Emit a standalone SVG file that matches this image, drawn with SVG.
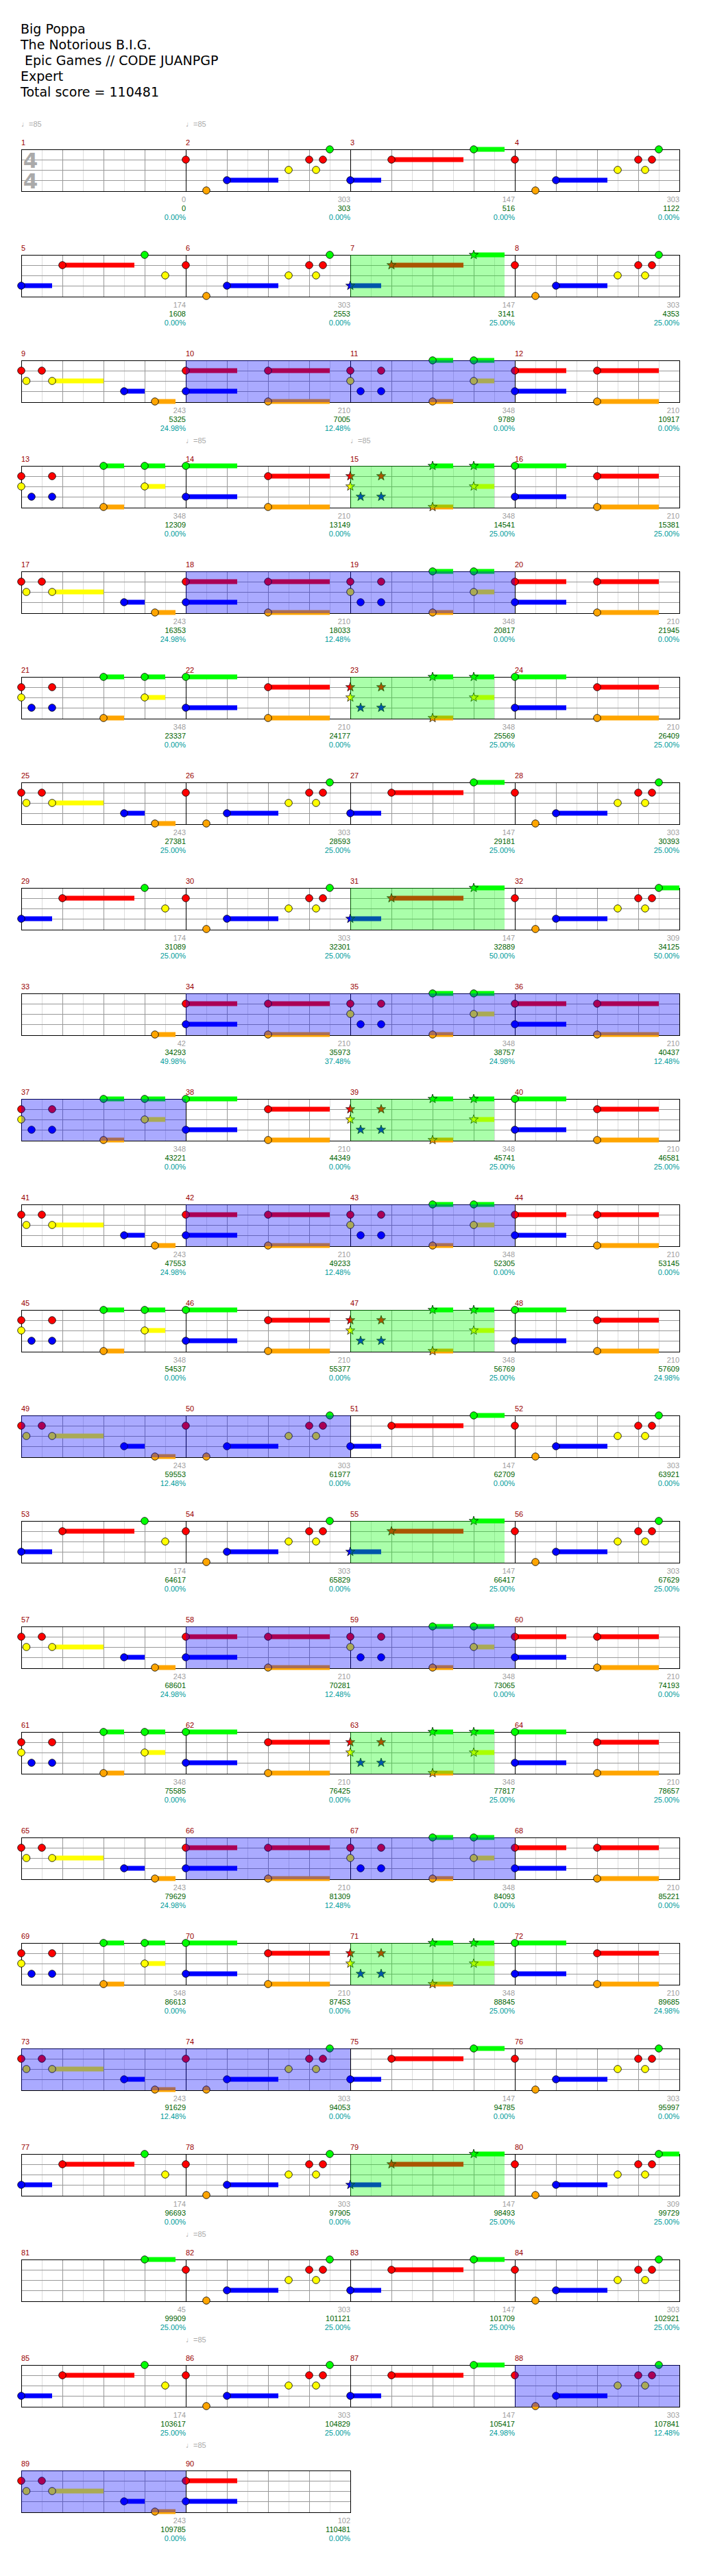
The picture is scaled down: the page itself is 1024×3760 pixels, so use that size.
<svg xmlns="http://www.w3.org/2000/svg" width="1024" height="3760" viewBox="0 0 1024 3760">
<style>
.t{font-family:"DejaVu Sans",sans-serif;font-size:19px;fill:#000}
.n{font-family:"Liberation Sans",Arial,sans-serif;font-size:11px;fill:#990000}
.s{font-family:"Liberation Sans",Arial,sans-serif;font-size:11px;text-anchor:end}
.s1{fill:#a0a0a0}.s2{fill:#006400}.s3{fill:#009c9c}
.tp{font-family:"Liberation Sans","DejaVu Sans",sans-serif;font-size:11px;fill:#aaa}
.ts{font-family:"DejaVu Sans",sans-serif;font-size:31px;font-weight:bold;fill:#aaa;text-anchor:middle}
.g{fill:#00ff00}.r{fill:#ff0000}.y{fill:#ffff00}.b{fill:#0000ff}.o{fill:#ffa500}
.sp{fill:#00ff00;fill-opacity:.333}.bo{fill:#0000ff;fill-opacity:.333}
</style>
<defs>
<circle id="c" r="5.3" stroke="#000" stroke-width="0.8"/>
<polygon id="s" points="0,-7 1.65,-2.27 6.66,-2.16 2.66,0.87 4.11,5.66 0,2.8 -4.11,5.66 -2.66,0.87 -6.66,-2.16 -1.65,-2.27" stroke="#000" stroke-width="0.7"/>
<g id="st4" shape-rendering="crispEdges" fill="none">
<path stroke="#ddd" d="M61 0v61M121 0v61M181 0v61M241 0v61M301 0v61M361 0v61M421 0v61M481 0v61M541 0v61M601 0v61M661 0v61M721 0v61M781 0v61M841 0v61M901 0v61M961 0v61"/>
<path stroke="#999" d="M91 0v61M151 0v61M211 0v61M331 0v61M391 0v61M451 0v61M571 0v61M631 0v61M691 0v61M811 0v61M871 0v61M931 0v61M31 15H991M31 30H991M31 45H991"/>
<path stroke="#000" d="M271 0v61M511 0v61M751 0v61"/>
<rect x="31" y="0" width="960" height="61" stroke="#000"/>
</g>
<g id="st2" shape-rendering="crispEdges" fill="none">
<path stroke="#ddd" d="M61 0v61M121 0v61M181 0v61M241 0v61M301 0v61M361 0v61M421 0v61M481 0v61"/>
<path stroke="#999" d="M91 0v61M151 0v61M211 0v61M331 0v61M391 0v61M451 0v61M31 15H511M31 30H511M31 45H511"/>
<path stroke="#000" d="M271 0v61"/>
<rect x="31" y="0" width="480" height="61" stroke="#000"/>
</g>
<g id="pA">
<rect class="b" x="60" y="41.5" width="75" height="7"/>
<use href="#c" class="r" y="15"/><use href="#c" class="o" x="30" y="60"/><use href="#c" class="b" x="60" y="45"/><use href="#c" class="y" x="150" y="30"/><use href="#c" class="r" x="180" y="15"/><use href="#c" class="y" x="190" y="30"/><use href="#c" class="r" x="200" y="15"/><use href="#c" class="g" x="210"/>
</g>
<g id="pA2"><rect class="g" x="210" y="-3.5" width="30" height="7"/><use href="#pA"/></g>
<g id="pB">
<rect class="b" y="41.5" width="45" height="7"/><rect class="r" x="60" y="11.5" width="105" height="7"/><rect class="g" x="180" y="-3.5" width="45" height="7"/>
<use href="#c" class="b" y="45"/><use href="#c" class="r" x="60" y="15"/><use href="#c" class="g" x="180"/>
</g>
<g id="pBs">
<rect class="b" y="41.5" width="45" height="7"/><rect class="r" x="60" y="11.5" width="105" height="7"/><rect class="g" x="180" y="-3.5" width="45" height="7"/>
<use href="#s" class="b" y="45"/><use href="#s" class="r" x="60" y="15"/><use href="#s" class="g" x="180"/>
</g>
<g id="pC">
<rect class="b" y="41.5" width="45" height="7"/><rect class="r" x="60" y="11.5" width="105" height="7"/>
<use href="#c" class="b" y="45"/><use href="#c" class="r" x="60" y="15"/><use href="#c" class="g" x="180"/><use href="#c" class="y" x="210" y="30"/>
</g>
<g id="pD">
<rect class="y" x="45" y="26.5" width="75" height="7"/><rect class="b" x="150" y="41.5" width="30" height="7"/><rect class="o" x="195" y="56.5" width="30" height="7"/>
<use href="#c" class="r" y="15"/><use href="#c" class="y" x="7.5" y="30"/><use href="#c" class="r" x="30" y="15"/><use href="#c" class="y" x="45" y="30"/><use href="#c" class="b" x="150" y="45"/><use href="#c" class="o" x="195" y="60"/>
</g>
<g id="pE">
<rect class="r" y="11.5" width="75" height="7"/><rect class="b" y="41.5" width="75" height="7"/><rect class="r" x="120" y="11.5" width="90" height="7"/><rect class="o" x="120" y="56.5" width="90" height="7"/>
<use href="#c" class="r" y="15"/><use href="#c" class="b" y="45"/><use href="#c" class="r" x="120" y="15"/><use href="#c" class="o" x="120" y="60"/>
</g>
<g id="pF">
<rect class="g" x="120" y="-3.5" width="30" height="7"/><rect class="o" x="120" y="56.5" width="30" height="7"/><rect class="g" x="180" y="-3.5" width="30" height="7"/><rect class="y" x="180" y="26.5" width="30" height="7"/>
<use href="#c" class="r" y="15"/><use href="#c" class="y" y="30"/><use href="#c" class="b" x="15" y="45"/><use href="#c" class="r" x="45" y="15"/><use href="#c" class="b" x="45" y="45"/><use href="#c" class="g" x="120"/><use href="#c" class="o" x="120" y="60"/><use href="#c" class="g" x="180"/><use href="#c" class="y" x="180" y="30"/>
</g>
<g id="pFs">
<rect class="g" x="120" y="-3.5" width="30" height="7"/><rect class="o" x="120" y="56.5" width="30" height="7"/><rect class="g" x="180" y="-3.5" width="30" height="7"/><rect class="y" x="180" y="26.5" width="30" height="7"/>
<use href="#s" class="r" y="15"/><use href="#s" class="y" y="30"/><use href="#s" class="b" x="15" y="45"/><use href="#s" class="r" x="45" y="15"/><use href="#s" class="b" x="45" y="45"/><use href="#s" class="g" x="120"/><use href="#s" class="o" x="120" y="60"/><use href="#s" class="g" x="180"/><use href="#s" class="y" x="180" y="30"/>
</g>
<g id="pG">
<rect class="g" y="-3.5" width="75" height="7"/><rect class="b" y="41.5" width="75" height="7"/><rect class="r" x="120" y="11.5" width="90" height="7"/><rect class="o" x="120" y="56.5" width="90" height="7"/>
<use href="#c" class="g"/><use href="#c" class="b" y="45"/><use href="#c" class="r" x="120" y="15"/><use href="#c" class="o" x="120" y="60"/>
</g>
</defs>
<rect width="1024" height="3760" fill="#fff"/>
<g id="title">
<text class="t" x="30" y="49">Big Poppa</text>
<text class="t" x="30" y="72">The Notorious B.I.G.</text>
<text class="t" x="30" y="95" xml:space="preserve"> Epic Games // CODE JUANPGP</text>
<text class="t" x="30" y="118">Expert</text>
<text class="t" x="30" y="141">Total score = 110481</text>
</g>

<g id="row1" transform="translate(0,218)">
<text class="tp" x="31" y="-33">♩=85</text><text class="tp" x="271" y="-33">♩=85</text>
<use href="#st4"/>
<g id="m1"><text class="n" x="31" y="-6">1</text><text class="ts" x="44.5" y="27">4</text><text class="ts" x="44.5" y="57">4</text><text class="s"><tspan class="s1" x="271" y="77">0</tspan><tspan class="s2" x="271" y="90">0</tspan><tspan class="s3" x="271" y="103">0.00%</tspan></text></g>
<g id="m2"><text class="n" x="271" y="-6">2</text><use href="#pA" x="271"/><text class="s"><tspan class="s1" x="511" y="77">303</tspan><tspan class="s2" x="511" y="90">303</tspan><tspan class="s3" x="511" y="103">0.00%</tspan></text></g>
<g id="m3"><text class="n" x="511" y="-6">3</text><use href="#pB" x="511"/><text class="s"><tspan class="s1" x="751" y="77">147</tspan><tspan class="s2" x="751" y="90">516</tspan><tspan class="s3" x="751" y="103">0.00%</tspan></text></g>
<g id="m4"><text class="n" x="751" y="-6">4</text><use href="#pA" x="751"/><text class="s"><tspan class="s1" x="991" y="77">303</tspan><tspan class="s2" x="991" y="90">1122</tspan><tspan class="s3" x="991" y="103">0.00%</tspan></text></g>
</g>

<g id="row2" transform="translate(0,372)">
<use href="#st4"/>
<g id="m5"><text class="n" x="31" y="-6">5</text><use href="#pC" x="31"/><text class="s"><tspan class="s1" x="271" y="77">174</tspan><tspan class="s2" x="271" y="90">1608</tspan><tspan class="s3" x="271" y="103">0.00%</tspan></text></g>
<g id="m6"><text class="n" x="271" y="-6">6</text><use href="#pA" x="271"/><text class="s"><tspan class="s1" x="511" y="77">303</tspan><tspan class="s2" x="511" y="90">2553</tspan><tspan class="s3" x="511" y="103">0.00%</tspan></text></g>
<g id="m7"><text class="n" x="511" y="-6">7</text><use href="#pBs" x="511"/><text class="s"><tspan class="s1" x="751" y="77">147</tspan><tspan class="s2" x="751" y="90">3141</tspan><tspan class="s3" x="751" y="103">25.00%</tspan></text></g>
<g id="m8"><text class="n" x="751" y="-6">8</text><use href="#pA" x="751"/><text class="s"><tspan class="s1" x="991" y="77">303</tspan><tspan class="s2" x="991" y="90">4353</tspan><tspan class="s3" x="991" y="103">25.00%</tspan></text></g>
<rect class="sp" x="511" width="225" height="61"/>
</g>

<g id="row3" transform="translate(0,526)">
<use href="#st4"/>
<g id="m9"><text class="n" x="31" y="-6">9</text><use href="#pD" x="31"/><text class="s"><tspan class="s1" x="271" y="77">243</tspan><tspan class="s2" x="271" y="90">5325</tspan><tspan class="s3" x="271" y="103">24.98%</tspan></text></g>
<g id="m10"><text class="n" x="271" y="-6">10</text><use href="#pE" x="271"/><text class="s"><tspan class="s1" x="511" y="77">210</tspan><tspan class="s2" x="511" y="90">7005</tspan><tspan class="s3" x="511" y="103">12.48%</tspan></text></g>
<g id="m11"><text class="n" x="511" y="-6">11</text><use href="#pF" x="511"/><text class="s"><tspan class="s1" x="751" y="77">348</tspan><tspan class="s2" x="751" y="90">9789</tspan><tspan class="s3" x="751" y="103">0.00%</tspan></text></g>
<g id="m12"><text class="n" x="751" y="-6">12</text><use href="#pE" x="751"/><text class="s"><tspan class="s1" x="991" y="77">210</tspan><tspan class="s2" x="991" y="90">10917</tspan><tspan class="s3" x="991" y="103">0.00%</tspan></text></g>
<rect class="bo" x="271" width="480" height="61"/>
</g>

<g id="row4" transform="translate(0,680)">
<text class="tp" x="271" y="-33">♩=85</text><text class="tp" x="511" y="-33">♩=85</text>
<use href="#st4"/>
<g id="m13"><text class="n" x="31" y="-6">13</text><use href="#pF" x="31"/><text class="s"><tspan class="s1" x="271" y="77">348</tspan><tspan class="s2" x="271" y="90">12309</tspan><tspan class="s3" x="271" y="103">0.00%</tspan></text></g>
<g id="m14"><text class="n" x="271" y="-6">14</text><use href="#pG" x="271"/><text class="s"><tspan class="s1" x="511" y="77">210</tspan><tspan class="s2" x="511" y="90">13149</tspan><tspan class="s3" x="511" y="103">0.00%</tspan></text></g>
<g id="m15"><text class="n" x="511" y="-6">15</text><use href="#pFs" x="511"/><text class="s"><tspan class="s1" x="751" y="77">348</tspan><tspan class="s2" x="751" y="90">14541</tspan><tspan class="s3" x="751" y="103">25.00%</tspan></text></g>
<g id="m16"><text class="n" x="751" y="-6">16</text><use href="#pG" x="751"/><text class="s"><tspan class="s1" x="991" y="77">210</tspan><tspan class="s2" x="991" y="90">15381</tspan><tspan class="s3" x="991" y="103">25.00%</tspan></text></g>
<rect class="sp" x="511" width="210" height="61"/>
</g>

<g id="row5" transform="translate(0,834)">
<use href="#st4"/>
<g id="m17"><text class="n" x="31" y="-6">17</text><use href="#pD" x="31"/><text class="s"><tspan class="s1" x="271" y="77">243</tspan><tspan class="s2" x="271" y="90">16353</tspan><tspan class="s3" x="271" y="103">24.98%</tspan></text></g>
<g id="m18"><text class="n" x="271" y="-6">18</text><use href="#pE" x="271"/><text class="s"><tspan class="s1" x="511" y="77">210</tspan><tspan class="s2" x="511" y="90">18033</tspan><tspan class="s3" x="511" y="103">12.48%</tspan></text></g>
<g id="m19"><text class="n" x="511" y="-6">19</text><use href="#pF" x="511"/><text class="s"><tspan class="s1" x="751" y="77">348</tspan><tspan class="s2" x="751" y="90">20817</tspan><tspan class="s3" x="751" y="103">0.00%</tspan></text></g>
<g id="m20"><text class="n" x="751" y="-6">20</text><use href="#pE" x="751"/><text class="s"><tspan class="s1" x="991" y="77">210</tspan><tspan class="s2" x="991" y="90">21945</tspan><tspan class="s3" x="991" y="103">0.00%</tspan></text></g>
<rect class="bo" x="271" width="480" height="61"/>
</g>

<g id="row6" transform="translate(0,988)">
<use href="#st4"/>
<g id="m21"><text class="n" x="31" y="-6">21</text><use href="#pF" x="31"/><text class="s"><tspan class="s1" x="271" y="77">348</tspan><tspan class="s2" x="271" y="90">23337</tspan><tspan class="s3" x="271" y="103">0.00%</tspan></text></g>
<g id="m22"><text class="n" x="271" y="-6">22</text><use href="#pG" x="271"/><text class="s"><tspan class="s1" x="511" y="77">210</tspan><tspan class="s2" x="511" y="90">24177</tspan><tspan class="s3" x="511" y="103">0.00%</tspan></text></g>
<g id="m23"><text class="n" x="511" y="-6">23</text><use href="#pFs" x="511"/><text class="s"><tspan class="s1" x="751" y="77">348</tspan><tspan class="s2" x="751" y="90">25569</tspan><tspan class="s3" x="751" y="103">25.00%</tspan></text></g>
<g id="m24"><text class="n" x="751" y="-6">24</text><use href="#pG" x="751"/><text class="s"><tspan class="s1" x="991" y="77">210</tspan><tspan class="s2" x="991" y="90">26409</tspan><tspan class="s3" x="991" y="103">25.00%</tspan></text></g>
<rect class="sp" x="511" width="210" height="61"/>
</g>

<g id="row7" transform="translate(0,1142)">
<use href="#st4"/>
<g id="m25"><text class="n" x="31" y="-6">25</text><use href="#pD" x="31"/><text class="s"><tspan class="s1" x="271" y="77">243</tspan><tspan class="s2" x="271" y="90">27381</tspan><tspan class="s3" x="271" y="103">25.00%</tspan></text></g>
<g id="m26"><text class="n" x="271" y="-6">26</text><use href="#pA" x="271"/><text class="s"><tspan class="s1" x="511" y="77">303</tspan><tspan class="s2" x="511" y="90">28593</tspan><tspan class="s3" x="511" y="103">25.00%</tspan></text></g>
<g id="m27"><text class="n" x="511" y="-6">27</text><use href="#pB" x="511"/><text class="s"><tspan class="s1" x="751" y="77">147</tspan><tspan class="s2" x="751" y="90">29181</tspan><tspan class="s3" x="751" y="103">25.00%</tspan></text></g>
<g id="m28"><text class="n" x="751" y="-6">28</text><use href="#pA" x="751"/><text class="s"><tspan class="s1" x="991" y="77">303</tspan><tspan class="s2" x="991" y="90">30393</tspan><tspan class="s3" x="991" y="103">25.00%</tspan></text></g>
</g>

<g id="row8" transform="translate(0,1296)">
<use href="#st4"/>
<g id="m29"><text class="n" x="31" y="-6">29</text><use href="#pC" x="31"/><text class="s"><tspan class="s1" x="271" y="77">174</tspan><tspan class="s2" x="271" y="90">31089</tspan><tspan class="s3" x="271" y="103">25.00%</tspan></text></g>
<g id="m30"><text class="n" x="271" y="-6">30</text><use href="#pA" x="271"/><text class="s"><tspan class="s1" x="511" y="77">303</tspan><tspan class="s2" x="511" y="90">32301</tspan><tspan class="s3" x="511" y="103">25.00%</tspan></text></g>
<g id="m31"><text class="n" x="511" y="-6">31</text><use href="#pBs" x="511"/><text class="s"><tspan class="s1" x="751" y="77">147</tspan><tspan class="s2" x="751" y="90">32889</tspan><tspan class="s3" x="751" y="103">50.00%</tspan></text></g>
<g id="m32"><text class="n" x="751" y="-6">32</text><use href="#pA2" x="751"/><text class="s"><tspan class="s1" x="991" y="77">309</tspan><tspan class="s2" x="991" y="90">34125</tspan><tspan class="s3" x="991" y="103">50.00%</tspan></text></g>
<rect class="sp" x="511" width="225" height="61"/>
</g>

<g id="row9" transform="translate(0,1450)">
<use href="#st4"/>
<g id="m33"><text class="n" x="31" y="-6">33</text><rect class="o" x="226" y="56.5" width="30" height="7"/><use href="#c" class="o" x="226" y="60"/><text class="s"><tspan class="s1" x="271" y="77">42</tspan><tspan class="s2" x="271" y="90">34293</tspan><tspan class="s3" x="271" y="103">49.98%</tspan></text></g>
<g id="m34"><text class="n" x="271" y="-6">34</text><use href="#pE" x="271"/><text class="s"><tspan class="s1" x="511" y="77">210</tspan><tspan class="s2" x="511" y="90">35973</tspan><tspan class="s3" x="511" y="103">37.48%</tspan></text></g>
<g id="m35"><text class="n" x="511" y="-6">35</text><use href="#pF" x="511"/><text class="s"><tspan class="s1" x="751" y="77">348</tspan><tspan class="s2" x="751" y="90">38757</tspan><tspan class="s3" x="751" y="103">24.98%</tspan></text></g>
<g id="m36"><text class="n" x="751" y="-6">36</text><use href="#pE" x="751"/><text class="s"><tspan class="s1" x="991" y="77">210</tspan><tspan class="s2" x="991" y="90">40437</tspan><tspan class="s3" x="991" y="103">12.48%</tspan></text></g>
<rect class="bo" x="271" width="720" height="61"/>
</g>

<g id="row10" transform="translate(0,1604)">
<use href="#st4"/>
<g id="m37"><text class="n" x="31" y="-6">37</text><use href="#pF" x="31"/><text class="s"><tspan class="s1" x="271" y="77">348</tspan><tspan class="s2" x="271" y="90">43221</tspan><tspan class="s3" x="271" y="103">0.00%</tspan></text></g>
<g id="m38"><text class="n" x="271" y="-6">38</text><use href="#pG" x="271"/><text class="s"><tspan class="s1" x="511" y="77">210</tspan><tspan class="s2" x="511" y="90">44349</tspan><tspan class="s3" x="511" y="103">0.00%</tspan></text></g>
<g id="m39"><text class="n" x="511" y="-6">39</text><use href="#pFs" x="511"/><text class="s"><tspan class="s1" x="751" y="77">348</tspan><tspan class="s2" x="751" y="90">45741</tspan><tspan class="s3" x="751" y="103">25.00%</tspan></text></g>
<g id="m40"><text class="n" x="751" y="-6">40</text><use href="#pG" x="751"/><text class="s"><tspan class="s1" x="991" y="77">210</tspan><tspan class="s2" x="991" y="90">46581</tspan><tspan class="s3" x="991" y="103">25.00%</tspan></text></g>
<rect class="bo" x="31" width="240" height="61"/>
<rect class="sp" x="511" width="210" height="61"/>
</g>

<g id="row11" transform="translate(0,1758)">
<use href="#st4"/>
<g id="m41"><text class="n" x="31" y="-6">41</text><use href="#pD" x="31"/><text class="s"><tspan class="s1" x="271" y="77">243</tspan><tspan class="s2" x="271" y="90">47553</tspan><tspan class="s3" x="271" y="103">24.98%</tspan></text></g>
<g id="m42"><text class="n" x="271" y="-6">42</text><use href="#pE" x="271"/><text class="s"><tspan class="s1" x="511" y="77">210</tspan><tspan class="s2" x="511" y="90">49233</tspan><tspan class="s3" x="511" y="103">12.48%</tspan></text></g>
<g id="m43"><text class="n" x="511" y="-6">43</text><use href="#pF" x="511"/><text class="s"><tspan class="s1" x="751" y="77">348</tspan><tspan class="s2" x="751" y="90">52305</tspan><tspan class="s3" x="751" y="103">0.00%</tspan></text></g>
<g id="m44"><text class="n" x="751" y="-6">44</text><use href="#pE" x="751"/><text class="s"><tspan class="s1" x="991" y="77">210</tspan><tspan class="s2" x="991" y="90">53145</tspan><tspan class="s3" x="991" y="103">0.00%</tspan></text></g>
<rect class="bo" x="271" width="480" height="61"/>
</g>

<g id="row12" transform="translate(0,1912)">
<use href="#st4"/>
<g id="m45"><text class="n" x="31" y="-6">45</text><use href="#pF" x="31"/><text class="s"><tspan class="s1" x="271" y="77">348</tspan><tspan class="s2" x="271" y="90">54537</tspan><tspan class="s3" x="271" y="103">0.00%</tspan></text></g>
<g id="m46"><text class="n" x="271" y="-6">46</text><use href="#pG" x="271"/><text class="s"><tspan class="s1" x="511" y="77">210</tspan><tspan class="s2" x="511" y="90">55377</tspan><tspan class="s3" x="511" y="103">0.00%</tspan></text></g>
<g id="m47"><text class="n" x="511" y="-6">47</text><use href="#pFs" x="511"/><text class="s"><tspan class="s1" x="751" y="77">348</tspan><tspan class="s2" x="751" y="90">56769</tspan><tspan class="s3" x="751" y="103">25.00%</tspan></text></g>
<g id="m48"><text class="n" x="751" y="-6">48</text><use href="#pG" x="751"/><text class="s"><tspan class="s1" x="991" y="77">210</tspan><tspan class="s2" x="991" y="90">57609</tspan><tspan class="s3" x="991" y="103">24.98%</tspan></text></g>
<rect class="sp" x="511" width="210" height="61"/>
</g>

<g id="row13" transform="translate(0,2066)">
<use href="#st4"/>
<g id="m49"><text class="n" x="31" y="-6">49</text><use href="#pD" x="31"/><text class="s"><tspan class="s1" x="271" y="77">243</tspan><tspan class="s2" x="271" y="90">59553</tspan><tspan class="s3" x="271" y="103">12.48%</tspan></text></g>
<g id="m50"><text class="n" x="271" y="-6">50</text><use href="#pA" x="271"/><text class="s"><tspan class="s1" x="511" y="77">303</tspan><tspan class="s2" x="511" y="90">61977</tspan><tspan class="s3" x="511" y="103">0.00%</tspan></text></g>
<g id="m51"><text class="n" x="511" y="-6">51</text><use href="#pB" x="511"/><text class="s"><tspan class="s1" x="751" y="77">147</tspan><tspan class="s2" x="751" y="90">62709</tspan><tspan class="s3" x="751" y="103">0.00%</tspan></text></g>
<g id="m52"><text class="n" x="751" y="-6">52</text><use href="#pA" x="751"/><text class="s"><tspan class="s1" x="991" y="77">303</tspan><tspan class="s2" x="991" y="90">63921</tspan><tspan class="s3" x="991" y="103">0.00%</tspan></text></g>
<rect class="bo" x="31" width="480" height="61"/>
</g>

<g id="row14" transform="translate(0,2220)">
<use href="#st4"/>
<g id="m53"><text class="n" x="31" y="-6">53</text><use href="#pC" x="31"/><text class="s"><tspan class="s1" x="271" y="77">174</tspan><tspan class="s2" x="271" y="90">64617</tspan><tspan class="s3" x="271" y="103">0.00%</tspan></text></g>
<g id="m54"><text class="n" x="271" y="-6">54</text><use href="#pA" x="271"/><text class="s"><tspan class="s1" x="511" y="77">303</tspan><tspan class="s2" x="511" y="90">65829</tspan><tspan class="s3" x="511" y="103">0.00%</tspan></text></g>
<g id="m55"><text class="n" x="511" y="-6">55</text><use href="#pBs" x="511"/><text class="s"><tspan class="s1" x="751" y="77">147</tspan><tspan class="s2" x="751" y="90">66417</tspan><tspan class="s3" x="751" y="103">25.00%</tspan></text></g>
<g id="m56"><text class="n" x="751" y="-6">56</text><use href="#pA" x="751"/><text class="s"><tspan class="s1" x="991" y="77">303</tspan><tspan class="s2" x="991" y="90">67629</tspan><tspan class="s3" x="991" y="103">25.00%</tspan></text></g>
<rect class="sp" x="511" width="225" height="61"/>
</g>

<g id="row15" transform="translate(0,2374)">
<use href="#st4"/>
<g id="m57"><text class="n" x="31" y="-6">57</text><use href="#pD" x="31"/><text class="s"><tspan class="s1" x="271" y="77">243</tspan><tspan class="s2" x="271" y="90">68601</tspan><tspan class="s3" x="271" y="103">24.98%</tspan></text></g>
<g id="m58"><text class="n" x="271" y="-6">58</text><use href="#pE" x="271"/><text class="s"><tspan class="s1" x="511" y="77">210</tspan><tspan class="s2" x="511" y="90">70281</tspan><tspan class="s3" x="511" y="103">12.48%</tspan></text></g>
<g id="m59"><text class="n" x="511" y="-6">59</text><use href="#pF" x="511"/><text class="s"><tspan class="s1" x="751" y="77">348</tspan><tspan class="s2" x="751" y="90">73065</tspan><tspan class="s3" x="751" y="103">0.00%</tspan></text></g>
<g id="m60"><text class="n" x="751" y="-6">60</text><use href="#pE" x="751"/><text class="s"><tspan class="s1" x="991" y="77">210</tspan><tspan class="s2" x="991" y="90">74193</tspan><tspan class="s3" x="991" y="103">0.00%</tspan></text></g>
<rect class="bo" x="271" width="480" height="61"/>
</g>

<g id="row16" transform="translate(0,2528)">
<use href="#st4"/>
<g id="m61"><text class="n" x="31" y="-6">61</text><use href="#pF" x="31"/><text class="s"><tspan class="s1" x="271" y="77">348</tspan><tspan class="s2" x="271" y="90">75585</tspan><tspan class="s3" x="271" y="103">0.00%</tspan></text></g>
<g id="m62"><text class="n" x="271" y="-6">62</text><use href="#pG" x="271"/><text class="s"><tspan class="s1" x="511" y="77">210</tspan><tspan class="s2" x="511" y="90">76425</tspan><tspan class="s3" x="511" y="103">0.00%</tspan></text></g>
<g id="m63"><text class="n" x="511" y="-6">63</text><use href="#pFs" x="511"/><text class="s"><tspan class="s1" x="751" y="77">348</tspan><tspan class="s2" x="751" y="90">77817</tspan><tspan class="s3" x="751" y="103">25.00%</tspan></text></g>
<g id="m64"><text class="n" x="751" y="-6">64</text><use href="#pG" x="751"/><text class="s"><tspan class="s1" x="991" y="77">210</tspan><tspan class="s2" x="991" y="90">78657</tspan><tspan class="s3" x="991" y="103">25.00%</tspan></text></g>
<rect class="sp" x="511" width="210" height="61"/>
</g>

<g id="row17" transform="translate(0,2682)">
<use href="#st4"/>
<g id="m65"><text class="n" x="31" y="-6">65</text><use href="#pD" x="31"/><text class="s"><tspan class="s1" x="271" y="77">243</tspan><tspan class="s2" x="271" y="90">79629</tspan><tspan class="s3" x="271" y="103">24.98%</tspan></text></g>
<g id="m66"><text class="n" x="271" y="-6">66</text><use href="#pE" x="271"/><text class="s"><tspan class="s1" x="511" y="77">210</tspan><tspan class="s2" x="511" y="90">81309</tspan><tspan class="s3" x="511" y="103">12.48%</tspan></text></g>
<g id="m67"><text class="n" x="511" y="-6">67</text><use href="#pF" x="511"/><text class="s"><tspan class="s1" x="751" y="77">348</tspan><tspan class="s2" x="751" y="90">84093</tspan><tspan class="s3" x="751" y="103">0.00%</tspan></text></g>
<g id="m68"><text class="n" x="751" y="-6">68</text><use href="#pE" x="751"/><text class="s"><tspan class="s1" x="991" y="77">210</tspan><tspan class="s2" x="991" y="90">85221</tspan><tspan class="s3" x="991" y="103">0.00%</tspan></text></g>
<rect class="bo" x="271" width="480" height="61"/>
</g>

<g id="row18" transform="translate(0,2836)">
<use href="#st4"/>
<g id="m69"><text class="n" x="31" y="-6">69</text><use href="#pF" x="31"/><text class="s"><tspan class="s1" x="271" y="77">348</tspan><tspan class="s2" x="271" y="90">86613</tspan><tspan class="s3" x="271" y="103">0.00%</tspan></text></g>
<g id="m70"><text class="n" x="271" y="-6">70</text><use href="#pG" x="271"/><text class="s"><tspan class="s1" x="511" y="77">210</tspan><tspan class="s2" x="511" y="90">87453</tspan><tspan class="s3" x="511" y="103">0.00%</tspan></text></g>
<g id="m71"><text class="n" x="511" y="-6">71</text><use href="#pFs" x="511"/><text class="s"><tspan class="s1" x="751" y="77">348</tspan><tspan class="s2" x="751" y="90">88845</tspan><tspan class="s3" x="751" y="103">25.00%</tspan></text></g>
<g id="m72"><text class="n" x="751" y="-6">72</text><use href="#pG" x="751"/><text class="s"><tspan class="s1" x="991" y="77">210</tspan><tspan class="s2" x="991" y="90">89685</tspan><tspan class="s3" x="991" y="103">24.98%</tspan></text></g>
<rect class="sp" x="511" width="210" height="61"/>
</g>

<g id="row19" transform="translate(0,2990)">
<use href="#st4"/>
<g id="m73"><text class="n" x="31" y="-6">73</text><use href="#pD" x="31"/><text class="s"><tspan class="s1" x="271" y="77">243</tspan><tspan class="s2" x="271" y="90">91629</tspan><tspan class="s3" x="271" y="103">12.48%</tspan></text></g>
<g id="m74"><text class="n" x="271" y="-6">74</text><use href="#pA" x="271"/><text class="s"><tspan class="s1" x="511" y="77">303</tspan><tspan class="s2" x="511" y="90">94053</tspan><tspan class="s3" x="511" y="103">0.00%</tspan></text></g>
<g id="m75"><text class="n" x="511" y="-6">75</text><use href="#pB" x="511"/><text class="s"><tspan class="s1" x="751" y="77">147</tspan><tspan class="s2" x="751" y="90">94785</tspan><tspan class="s3" x="751" y="103">0.00%</tspan></text></g>
<g id="m76"><text class="n" x="751" y="-6">76</text><use href="#pA" x="751"/><text class="s"><tspan class="s1" x="991" y="77">303</tspan><tspan class="s2" x="991" y="90">95997</tspan><tspan class="s3" x="991" y="103">0.00%</tspan></text></g>
<rect class="bo" x="31" width="480" height="61"/>
</g>

<g id="row20" transform="translate(0,3144)">
<use href="#st4"/>
<g id="m77"><text class="n" x="31" y="-6">77</text><use href="#pC" x="31"/><text class="s"><tspan class="s1" x="271" y="77">174</tspan><tspan class="s2" x="271" y="90">96693</tspan><tspan class="s3" x="271" y="103">0.00%</tspan></text></g>
<g id="m78"><text class="n" x="271" y="-6">78</text><use href="#pA" x="271"/><text class="s"><tspan class="s1" x="511" y="77">303</tspan><tspan class="s2" x="511" y="90">97905</tspan><tspan class="s3" x="511" y="103">0.00%</tspan></text></g>
<g id="m79"><text class="n" x="511" y="-6">79</text><use href="#pBs" x="511"/><text class="s"><tspan class="s1" x="751" y="77">147</tspan><tspan class="s2" x="751" y="90">98493</tspan><tspan class="s3" x="751" y="103">25.00%</tspan></text></g>
<g id="m80"><text class="n" x="751" y="-6">80</text><use href="#pA2" x="751"/><text class="s"><tspan class="s1" x="991" y="77">309</tspan><tspan class="s2" x="991" y="90">99729</tspan><tspan class="s3" x="991" y="103">25.00%</tspan></text></g>
<rect class="sp" x="511" width="225" height="61"/>
</g>

<g id="row21" transform="translate(0,3298)">
<text class="tp" x="271" y="-33">♩=85</text>
<use href="#st4"/>
<g id="m81"><text class="n" x="31" y="-6">81</text><rect class="g" x="211" y="-3.5" width="45" height="7"/><use href="#c" class="g" x="211"/><text class="s"><tspan class="s1" x="271" y="77">45</tspan><tspan class="s2" x="271" y="90">99909</tspan><tspan class="s3" x="271" y="103">25.00%</tspan></text></g>
<g id="m82"><text class="n" x="271" y="-6">82</text><use href="#pA" x="271"/><text class="s"><tspan class="s1" x="511" y="77">303</tspan><tspan class="s2" x="511" y="90">101121</tspan><tspan class="s3" x="511" y="103">25.00%</tspan></text></g>
<g id="m83"><text class="n" x="511" y="-6">83</text><use href="#pB" x="511"/><text class="s"><tspan class="s1" x="751" y="77">147</tspan><tspan class="s2" x="751" y="90">101709</tspan><tspan class="s3" x="751" y="103">25.00%</tspan></text></g>
<g id="m84"><text class="n" x="751" y="-6">84</text><use href="#pA" x="751"/><text class="s"><tspan class="s1" x="991" y="77">303</tspan><tspan class="s2" x="991" y="90">102921</tspan><tspan class="s3" x="991" y="103">25.00%</tspan></text></g>
</g>

<g id="row22" transform="translate(0,3452)">
<text class="tp" x="271" y="-33">♩=85</text>
<use href="#st4"/>
<g id="m85"><text class="n" x="31" y="-6">85</text><use href="#pC" x="31"/><text class="s"><tspan class="s1" x="271" y="77">174</tspan><tspan class="s2" x="271" y="90">103617</tspan><tspan class="s3" x="271" y="103">25.00%</tspan></text></g>
<g id="m86"><text class="n" x="271" y="-6">86</text><use href="#pA" x="271"/><text class="s"><tspan class="s1" x="511" y="77">303</tspan><tspan class="s2" x="511" y="90">104829</tspan><tspan class="s3" x="511" y="103">25.00%</tspan></text></g>
<g id="m87"><text class="n" x="511" y="-6">87</text><use href="#pB" x="511"/><text class="s"><tspan class="s1" x="751" y="77">147</tspan><tspan class="s2" x="751" y="90">105417</tspan><tspan class="s3" x="751" y="103">24.98%</tspan></text></g>
<g id="m88"><text class="n" x="751" y="-6">88</text><use href="#pA" x="751"/><text class="s"><tspan class="s1" x="991" y="77">303</tspan><tspan class="s2" x="991" y="90">107841</tspan><tspan class="s3" x="991" y="103">12.48%</tspan></text></g>
<rect class="bo" x="751" width="240" height="61"/>
</g>

<g id="row23" transform="translate(0,3606)">
<text class="tp" x="271" y="-33">♩=85</text>
<use href="#st2"/>
<g id="m89"><text class="n" x="31" y="-6">89</text><use href="#pD" x="31"/><text class="s"><tspan class="s1" x="271" y="77">243</tspan><tspan class="s2" x="271" y="90">109785</tspan><tspan class="s3" x="271" y="103">0.00%</tspan></text></g>
<g id="m90"><text class="n" x="271" y="-6">90</text><rect class="r" x="271" y="11.5" width="75" height="7"/><rect class="b" x="271" y="41.5" width="75" height="7"/><use href="#c" class="r" x="271" y="15"/><use href="#c" class="b" x="271" y="45"/><text class="s"><tspan class="s1" x="511" y="77">102</tspan><tspan class="s2" x="511" y="90">110481</tspan><tspan class="s3" x="511" y="103">0.00%</tspan></text></g>
<rect class="bo" x="31" width="240" height="61"/>
</g>
</svg>
